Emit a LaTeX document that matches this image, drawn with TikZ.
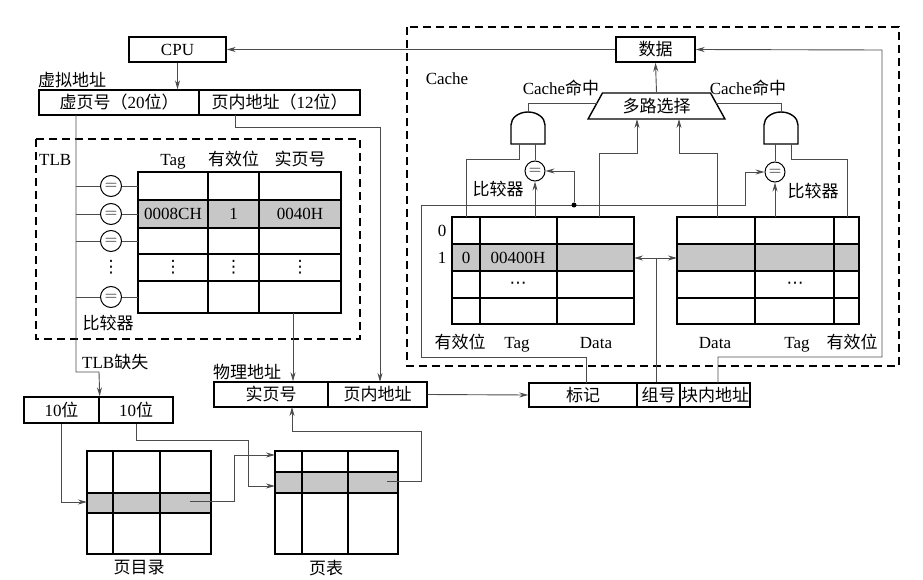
\documentclass[tikz,border=0pt]{standalone}
\usepackage{fontspec}
\setmainfont{Liberation Serif}
\newfontfamily\cjk{Noto Sans CJK SC}
\newfontfamily\sym{DejaVu Sans}
\usepackage{tikz}
\usetikzlibrary{arrows.meta,shapes.geometric}

\begin{document}
\begin{tikzpicture}[x=1pt, y=-1pt, font=\fontsize{17}{19}\selectfont,
    box/.style={draw, line width=1.4pt, inner sep=0pt, minimum height=25pt},
    lbl/.style={inner sep=0pt},
    wire/.style={draw=black!70, line width=0.9pt},
    arr/.style={wire, -{Stealth[length=9pt,width=5pt]}},
    grid/.style={line width=1.4pt, line cap=rect},
    dashbox/.style={line width=1.4pt, dash pattern=on 8pt off 5pt},
    cmp/.style={circle, draw, line width=1pt, minimum size=21pt, inner sep=0pt},
    hl/.style={fill=black!22}]
\useasboundingbox (0,0) rectangle (923,580);

\node[box, minimum width=97pt] (cpu) at (177.5,49.5) {CPU};
\node[box, minimum width=79pt] (data) at (655.5,49.5) {\cjk 数据};
\node[lbl, anchor=west] (vaddr) at (38,80) {\cjk 虚拟地址};
\node[box, minimum width=160pt] (vpn) at (119,102.5) {{\cjk 虚页号（}20{\cjk 位）}};
\node[box, minimum width=161pt] (voff) at (279.5,102.5) {{\cjk 页内地址（}12{\cjk 位）}};
\draw[arr] (cpu.south) -- (vpn.north -| cpu.south);
\draw[arr] (data.west) -- (cpu.east);

\draw[dashbox] (36,139) rectangle (360,339);
\node[lbl, anchor=base west] (tlb) at (39,166) {TLB};
\node[lbl, anchor=base] (thtag) at (173,166) {Tag};
\node[lbl, anchor=base] (thval) at (233.5,166) {\cjk 有效位};
\node[lbl, anchor=base] (thppn) at (300,166) {\cjk 实页号};
\fill[hl] (138,200) rectangle (341,228);
\foreach \x in {138,208,259,341} \draw[grid] (\x,172) -- (\x,313);
\foreach \y in {172,200,228,254,281,313} \draw[grid] (138,\y) -- (341,\y);
\node (ttag) at (173,214) {0008CH};
\node (tval) at (233.5,214) {1};
\node (tppn) at (300,214) {0040H};
\foreach \x [count=\i] in {111,173,233.5,300} \node[lbl] (tdots\i) at (\x,267.5) {\sym ⋮};
\coordinate (vt) at (76,115);
\foreach \y [count=\i] in {186,214,241,297} {
  \node[cmp] (tc\i) at (111,\y) {$=$};
  \draw[wire] (vt |- tc\i) -- (tc\i.west);
  \draw[wire] (tc\i.east) -- (138,\y);
}
\node (tcmp) at (108,323) {\cjk 比较器};
\node[lbl, anchor=west] (miss) at (82,362) {TLB{\cjk 缺失}};

\node[lbl, anchor=west] (paddr) at (213,372) {\cjk 物理地址};
\node[box, minimum width=114pt] (ppn) at (271,394.5) {\cjk 实页号};
\node[box, minimum width=99pt] (poff) at (377.5,394.5) {\cjk 页内地址};
\coordinate (tout) at (293,313);
\draw[arr] (tout) -- (tout |- ppn.north);
\coordinate (vo) at (235,115);
\coordinate (po) at (380,382);
\draw[arr] (vo) -- ++(0,12) -| (po);

\node[box, minimum width=75pt, minimum height=26pt] (pd1) at (61.5,410) {10{\cjk 位}};
\node[box, minimum width=74pt, minimum height=26pt] (pd2) at (136,410) {10{\cjk 位}};
\draw[arr] (vt) -- (76,372) -- (99,372) -- (pd1.north east);

\fill[hl] (87,493) rectangle (211,513);
\foreach \x in {87,113,160,211} \draw[grid] (\x,451) -- (\x,554);
\foreach \y in {451,493,513,554} \draw[grid] (87,\y) -- (211,\y);
\node (pdir) at (139,568) {\cjk 页目录};
\fill[hl] (275,472) rectangle (398,493);
\foreach \x in {275,302,348,398} \draw[grid] (\x,451) -- (\x,554);
\foreach \y in {451,472,493,554} \draw[grid] (275,\y) -- (398,\y);
\node (ptab) at (326,568) {\cjk 页表};
\coordinate (pdin) at (87,502);
\coordinate (pdout) at (190,501);
\coordinate (ptin1) at (275,455);
\coordinate (ptin2) at (275,486);
\coordinate (ptout) at (387,481);
\coordinate (ppnin) at (292,407);
\draw[arr] (pd1.south) |- (pdin);
\draw[arr] (pd2.south) -- ++(0,17) -| (248,486) -- (ptin2);
\draw[arr] (pdout) -- (234,501) |- (ptin1);
\draw[arr] (ptout) -| (421,431) -| (ppnin);

\node[box, minimum width=108pt, minimum height=24pt] (ctag) at (583,395) {\cjk 标记};
\node[box, minimum width=43pt, minimum height=24pt] (cset) at (658.5,395) {\cjk 组号};
\node[box, minimum width=70pt, minimum height=24pt] (coff) at (715,395) {\cjk 块内地址};
\draw[arr] (poff.east) -- (ctag.west);

\draw[dashbox] (407,27) rectangle (899,366);
\node[lbl] (cache) at (447,79) {Cache};
\node[trapezium, draw, line width=1.4pt, trapezium stretches=true, trapezium angle=60,
  minimum width=137pt, minimum height=26pt, inner sep=0pt] (mux) at (656.5,106) {\cjk 多路选择};
\draw[arr] (mux.north) -- (data.south);
\node (hitl) at (561,88) {Cache{\cjk 命中}};
\node (hitr) at (748,88) {Cache{\cjk 命中}};

\fill[hl] (452,244) rectangle (634,271);
\foreach \x in {452,480,557,634} \draw[grid] (\x,217) -- (\x,324);
\foreach \y in {217,244,271,298,324} \draw[grid] (452,\y) -- (634,\y);
\fill[hl] (677,244) rectangle (859,271);
\foreach \x in {677,755,834,859} \draw[grid] (\x,217) -- (\x,324);
\foreach \y in {217,244,271,298,324} \draw[grid] (677,\y) -- (859,\y);
\node (row0) at (442,231) {0};
\node (row1) at (442,258) {1};
\node (cval) at (466,258) {0};
\node (ctagv) at (518,258) {00400H};
\node[lbl] (cdotl) at (518,285) {\sym ⋯};
\node[lbl] (cdotr) at (795,285) {\sym ⋯};
\node[lbl, anchor=base] (lvl) at (460,348) {\cjk 有效位};
\node[lbl, anchor=base] (ltl) at (517,348) {Tag};
\node[lbl, anchor=base] (ldl) at (596,348) {Data};
\node[lbl, anchor=base] (ldr) at (715,348) {Data};
\node[lbl, anchor=base] (ltr) at (797,348) {Tag};
\node[lbl, anchor=base] (lvr) at (852,348) {\cjk 有效位};

\draw[line width=1.4pt] (511,144) -- (511,125) arc[start angle=180, end angle=0, x radius=17pt, y radius=13pt] -- (545,144) -- cycle;
\draw[line width=1.4pt] (764,144) -- (764,125) arc[start angle=180, end angle=0, x radius=17pt, y radius=13pt] -- (798,144) -- cycle;
\coordinate (gLo) at (528,112);
\coordinate (gLa) at (519,144);
\coordinate (gLb) at (535,144);
\coordinate (gRo) at (781,112);
\coordinate (gRa) at (775,144);
\coordinate (gRb) at (791,144);
\node[cmp, minimum size=20pt] (cL) at (535,171) {$=$};
\node[cmp, minimum size=20pt] (cR) at (775,172) {$=$};
\node (cmpl) at (498,189) {\cjk 比较器};
\node (cmpr) at (813,191) {\cjk 比较器};
\coordinate (hitL) at (597,103);
\coordinate (hitR) at (716,103);
\coordinate (cvL) at (466,217);
\coordinate (cvR) at (847,217);
\coordinate (ctL) at (535,217);
\coordinate (ctR) at (775,217);
\coordinate (cdL) at (599,217);
\coordinate (cdR) at (717,217);
\coordinate (muxa) at (637,119);
\coordinate (muxb) at (679,119);
\draw[wire] (gLo) |- (hitL);
\draw[wire] (gRo) |- (hitR);
\draw[wire] (gLb) -- (cL.north);
\draw[wire] (gRa) -- (cR.north);
\draw[wire] (gLa) -- (519,159) -| (cvL);
\draw[wire] (gRb) -- (791,159) -| (cvR);
\draw[arr] (ctL) -- (cL.south);
\draw[arr] (ctR) -- (cR.south);
\draw[arr] (cdL) |- (637,153) -- (muxa);
\draw[arr] (cdR) |- (679,153) -- (muxb);

\coordinate (tagup) at (586,383);
\draw[arr] (tagup) -- (586,357) -| (421,205) -| (745,172) -- (cR.west);
\node[circle, fill, inner sep=0pt, minimum size=5pt] (bdot) at (574,205) {};
\draw[arr] (bdot) |- (cL.east);

\coordinate (offup) at (718,383);
\draw[arr] (offup) -- (718,357) -| (882,50) -- (data.east);

\coordinate (csL) at (634,258);
\coordinate (csR) at (677,258);
\draw[wire] (cset.north -| 656,0) -- (656,258);
\draw[wire, {Stealth[length=9pt,width=5pt]}-{Stealth[length=9pt,width=5pt]}] (csL) -- (csR);
\end{tikzpicture}
\end{document}
